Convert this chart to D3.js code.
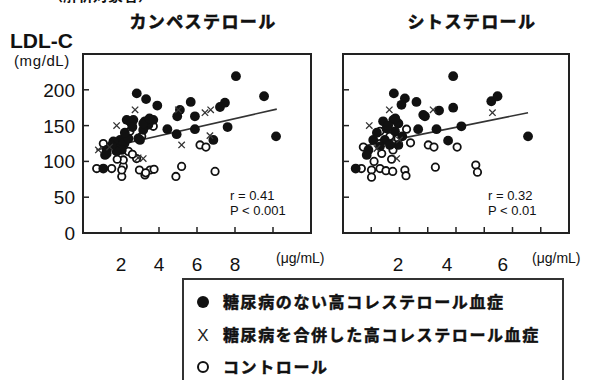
<!DOCTYPE html>
<html>
<head>
<meta charset="utf-8">
<script src="https://cdn.jsdelivr.net/npm/d3@7"></script>
<style>
  body { margin: 0; background: #fff; }
  svg { display: block; }
</style>
</head>
<body>
<div id="chart"></div>
<script>
// LDL-C vs plant sterols, three subject groups
const yTicks = [0, 50, 100, 150, 200]

const campTicks = [2, 4, 6, 8, 10]
const campLabels = [2, 4, 6, 8]
const campLabelPos = [2, 4, 6, 8]
const campFree = [[2.83,195],[3.32,187],[3.91,178],[8.05,219],[9.53,191],[10.16,135],[5.67,183],[5.1,172],[4.96,163],[5.89,163],[7.21,176],[7.47,182],[7.61,148],[5.89,145],[4.93,138],[4.44,145],[2.47,156],[2.65,158],[3.26,156],[3.44,151],[3.17,144],[2.91,132],[1.95,130],[2.12,125],[1.77,118],[2.04,116],[1.25,116],[1.16,109],[1.6,128],[1.07,90],[6.86,130],[2.3,158],[2.56,153],[2.39,132],[3.17,153],[3.7,158],[1.25,111],[1.77,114],[2.6,148],[3.5,160],[2.2,140],[1.5,122],[3.0,130]]
const campDiab = [[2.74,172],[1.77,150],[0.81,116],[3.17,104],[5.19,123],[6.42,168],[6.72,172],[6.68,136],[5.02,172],[1.4,120],[2.9,105]]
const campCtrl = [[0.72,90],[1.51,90],[2.04,79],[2.12,93],[2.12,102],[2.39,114],[2.97,88],[3.26,81],[3.53,88],[3.74,89],[5.19,93],[4.89,79],[6.95,86],[6.16,123],[6.47,120],[2.47,142],[3.09,135],[3.7,149],[2.82,104],[1.07,125],[2.04,88],[1.8,103],[2.6,110],[3.3,84],[2.2,125]]
const campFit = [[0.7,116],[10.2,173]]
const campStats = ['r = 0.41', 'P <  0.001']

const sitoTicks = [1, 2, 3, 4, 5, 6, 7]
const sitoLabels = [2, 4, 6]
const sitoLabelPos = [1.95, 3.68, 5.66]
const sitoFree = [[3.9,219],[1.8,195],[2.19,188],[2.07,179],[2.6,183],[2.9,163],[3.4,171],[3.9,175],[5.25,184],[5.47,191],[6.55,135],[4.19,149],[3.31,145],[2.66,145],[3.72,129],[1.42,156],[1.78,158],[1.96,153],[1.54,146],[1.84,142],[1.07,130],[0.9,116],[0.84,109],[1.48,130],[1.96,123],[1.66,123],[1.31,121],[0.45,90],[2.84,165],[1.6,150],[2.1,135],[1.2,140],[1.85,160]]
const sitoDiab = [[1.64,172],[0.93,150],[5.29,168],[1.9,104],[3.19,172],[1.2,118],[2.0,130]]
const sitoCtrl = [[0.65,90],[1.01,88],[1.01,78],[1.31,90],[1.52,87],[1.76,86],[1.72,103],[2.19,88],[2.23,80],[3.27,92],[4.7,95],[4.76,85],[2.39,126],[3.02,123],[3.22,120],[4.04,120],[2.25,145],[1.31,142],[0.72,120],[1.31,125],[1.66,135],[1.95,132],[1.37,111],[1.77,116],[1.1,100]]
const sitoFit = [[0.8,122],[6.55,168]]
const sitoStats = ['r = 0.32', 'P <  0.01']

const legendItems = ['糖尿病のない高コレステロール血症', '糖尿病を合併した高コレステロール血症', 'コントロール']

const W = 596, H = 380
const ink = '#111'
const jp = '"Noto Sans CJK JP", sans-serif'
const latin = '"Liberation Sans", Arial, sans-serif'

const svg = d3.select('#chart').append('svg')
  .attr('width', W).attr('height', H)
  .style('font-family', latin)

// line above the chart, only its bottom edge shows
svg.append('text').attr('x', 48).attr('y', 1)
  .style('font-family', jp).style('font-weight', 700).style('font-size', '15px')
  .style('fill', ink).text('（解析対象者）')

const y = d3.scaleLinear().domain([0, 250]).range([233, 54])

function drawPanel(p) {
  const x = d3.scaleLinear().domain(p.domain).range(p.range)
  const g = svg.append('g')

  g.append('text')
    .attr('x', p.titleX).attr('y', 28)
    .attr('text-anchor', 'middle')
    .style('font-family', jp).style('font-weight', 700).style('font-size', '17px')
    .style('letter-spacing', '1.4px').style('fill', ink)
    .style('stroke', ink).style('stroke-width', 0.6)
    .text(p.title)

  // frame
  g.append('rect')
    .attr('x', p.range[0]).attr('y', y(250))
    .attr('width', p.range[1] - p.range[0]).attr('height', y(0) - y(250))
    .attr('fill', 'none').attr('stroke', '#222').attr('stroke-width', 2)

  // inward ticks
  g.selectAll('.yt').data(yTicks.slice(1)).enter().append('line')
    .attr('x1', p.range[0]).attr('x2', p.range[0] + 6)
    .attr('y1', d => y(d)).attr('y2', d => y(d))
    .attr('stroke', '#222').attr('stroke-width', 1.5)
  g.selectAll('.xt').data(p.ticks).enter().append('line')
    .attr('x1', d => x(d)).attr('x2', d => x(d))
    .attr('y1', y(0)).attr('y2', y(0) - 6)
    .attr('stroke', '#222').attr('stroke-width', 1.5)

  if (p.yLabels) {
    g.selectAll('.yl').data(yTicks).enter().append('text')
      .attr('x', 75).attr('y', d => y(d) + 7)
      .attr('text-anchor', 'end')
      .style('font-size', '19px').style('fill', ink)
      .text(d => d)
  }

  g.selectAll('.xl').data(p.labels).enter().append('text')
    .attr('x', (d, i) => x(p.labelPos[i])).attr('y', 271)
    .attr('text-anchor', 'middle')
    .style('font-size', '19px').style('fill', ink)
    .text(d => d)

  g.append('text')
    .attr('x', p.unitX).attr('y', 263)
    .style('font-size', '14px').style('fill', ink)
    .text('(μg/mL)')

  // regression line
  g.append('path')
    .attr('d', d3.line().x(d => x(d[0])).y(d => y(d[1]))(p.fit))
    .attr('stroke', '#333').attr('stroke-width', 1.6).attr('fill', 'none')

  g.selectAll('.ctrl').data(p.ctrl).enter().append('circle')
    .attr('cx', d => x(d[0])).attr('cy', d => y(d[1])).attr('r', 3.7)
    .attr('fill', '#fff').attr('stroke', ink).attr('stroke-width', 1.8)

  g.selectAll('.free').data(p.free).enter().append('circle')
    .attr('cx', d => x(d[0])).attr('cy', d => y(d[1])).attr('r', 4.9)
    .attr('fill', ink)

  const s = 3.2
  g.selectAll('.diab').data(p.diab).enter().append('path')
    .attr('d', d => {
      const cx = x(d[0]), cy = y(d[1])
      return `M${cx - s},${cy - s}L${cx + s},${cy + s}M${cx - s},${cy + s}L${cx + s},${cy - s}`
    })
    .attr('stroke', '#333').attr('stroke-width', 1.3)

  g.selectAll('.st').data(p.stats).enter().append('text')
    .attr('x', p.statsX).attr('y', (d, i) => 200 + i * 15)
    .style('font-size', '13px').style('fill', ink)
    .text(d => d)
}

drawPanel({
  title: 'カンペステロール', titleX: 203, domain: [0, 12], range: [83, 311],
  ticks: campTicks, labels: campLabels, labelPos: campLabelPos,
  free: campFree, diab: campDiab, ctrl: campCtrl, fit: campFit,
  stats: campStats, statsX: 230, unitX: 276, yLabels: true
})
drawPanel({
  title: 'シトステロール', titleX: 472, domain: [0, 8], range: [343, 569],
  ticks: sitoTicks, labels: sitoLabels, labelPos: sitoLabelPos,
  free: sitoFree, diab: sitoDiab, ctrl: sitoCtrl, fit: sitoFit,
  stats: sitoStats, statsX: 488, unitX: 532, yLabels: false
})

// axis title
svg.append('text').attr('x', 10).attr('y', 48)
  .style('font-weight', 700).style('font-size', '21px').style('fill', ink)
  .text('LDL-C')
svg.append('text').attr('x', 14).attr('y', 66)
  .style('font-size', '15px').style('letter-spacing', '0.6px').style('fill', ink)
  .text('(mg/dL)')

// legend
const lg = svg.append('g')
lg.append('rect').attr('x', 183).attr('y', 279).attr('width', 380).attr('height', 120)
  .attr('fill', '#fff').attr('stroke', '#333').attr('stroke-width', 2)
const rowY = [302, 335, 367]
lg.append('circle').attr('cx', 203).attr('cy', rowY[0]).attr('r', 6).attr('fill', ink)
lg.append('text').attr('x', 203).attr('y', rowY[1] + 6).attr('text-anchor', 'middle')
  .style('font-size', '17px').style('fill', '#222').text('X')
lg.append('circle').attr('cx', 203).attr('cy', rowY[2]).attr('r', 5).attr('fill', '#fff')
  .attr('stroke', ink).attr('stroke-width', 2)
lg.selectAll('.lt').data(legendItems).enter().append('text')
  .attr('x', 223).attr('y', (d, i) => rowY[i] + 6)
  .style('font-family', jp).style('font-weight', 700).style('font-size', '16px')
  .style('letter-spacing', '1.6px').style('fill', ink)
  .style('stroke', ink).style('stroke-width', 0.5)
  .text(d => d)
</script>
</body>
</html>
